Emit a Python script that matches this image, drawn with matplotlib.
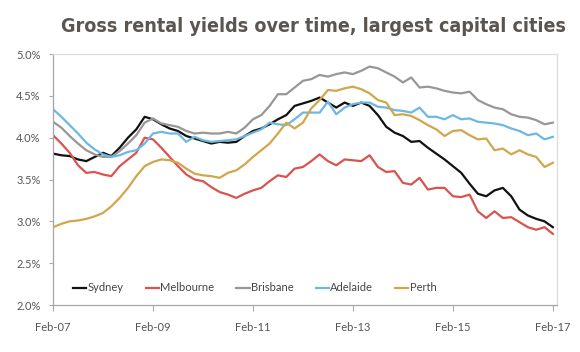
import matplotlib
matplotlib.use("Agg")
import matplotlib.pyplot as plt
from matplotlib import font_manager
import numpy as np

# Bi-monthly observations, Feb-07 .. Feb-17 (month index from Feb-07)
months = list(range(0, 121, 2))

sydney = [3.81, 3.79, 3.78, 3.74, 3.72, 3.77, 3.82, 3.78, 3.88, 4.00, 4.10, 4.25,
          4.22, 4.16, 4.11, 4.08, 4.02, 3.99, 3.96, 3.93, 3.95, 3.94, 3.95, 4.02,
          4.08, 4.11, 4.16, 4.22, 4.27, 4.38, 4.41, 4.44, 4.48, 4.42, 4.36, 4.42,
          4.38, 4.42, 4.38, 4.27, 4.13, 4.06, 4.02, 3.95, 3.96, 3.88, 3.81, 3.74,
          3.66, 3.58, 3.45, 3.33, 3.30, 3.37, 3.40, 3.30, 3.14, 3.07, 3.03, 3.00, 2.93]

melbourne = [4.03, 3.93, 3.82, 3.67, 3.58, 3.59, 3.56, 3.54, 3.66, 3.74, 3.82, 4.00,
             3.98, 3.88, 3.77, 3.66, 3.56, 3.50, 3.48, 3.41, 3.35, 3.32, 3.28, 3.33,
             3.37, 3.40, 3.48, 3.55, 3.53, 3.63, 3.65, 3.72, 3.80, 3.72, 3.67, 3.74,
             3.73, 3.72, 3.79, 3.65, 3.59, 3.60, 3.46, 3.44, 3.52, 3.38, 3.40, 3.40,
             3.30, 3.29, 3.32, 3.12, 3.04, 3.12, 3.04, 3.05, 2.99, 2.93, 2.90, 2.93, 2.85]

brisbane = [4.19, 4.12, 4.02, 3.93, 3.85, 3.80, 3.77, 3.77, 3.84, 3.93, 4.03, 4.18,
            4.23, 4.17, 4.15, 4.13, 4.08, 4.05, 4.06, 4.05, 4.05, 4.07, 4.05, 4.12,
            4.22, 4.27, 4.38, 4.52, 4.52, 4.60, 4.68, 4.70, 4.75, 4.73, 4.76, 4.78,
            4.76, 4.80, 4.85, 4.83, 4.78, 4.73, 4.66, 4.72, 4.60, 4.61, 4.59, 4.56,
            4.54, 4.53, 4.55, 4.45, 4.40, 4.36, 4.34, 4.28, 4.25, 4.24, 4.21, 4.16, 4.18]

adelaide = [4.34, 4.25, 4.15, 4.05, 3.94, 3.86, 3.80, 3.77, 3.79, 3.83, 3.85, 3.93,
            4.05, 4.07, 4.05, 4.05, 3.95, 4.01, 3.97, 3.95, 3.96, 3.97, 3.98, 4.02,
            4.06, 4.10, 4.18, 4.16, 4.15, 4.22, 4.30, 4.30, 4.30, 4.43, 4.28, 4.36,
            4.40, 4.42, 4.42, 4.37, 4.36, 4.33, 4.32, 4.30, 4.36, 4.25, 4.25, 4.22,
            4.27, 4.22, 4.23, 4.19, 4.18, 4.17, 4.15, 4.11, 4.08, 4.03, 4.05, 3.98, 4.01]

perth = [2.93, 2.97, 3.00, 3.01, 3.03, 3.06, 3.10, 3.18, 3.28, 3.40, 3.54, 3.66,
         3.71, 3.74, 3.73, 3.70, 3.63, 3.57, 3.55, 3.54, 3.52, 3.58, 3.61, 3.68,
         3.77, 3.85, 3.93, 4.05, 4.18, 4.11, 4.18, 4.35, 4.45, 4.57, 4.56, 4.59,
         4.61, 4.58, 4.53, 4.45, 4.42, 4.27, 4.28, 4.26, 4.21, 4.15, 4.10, 4.02,
         4.08, 4.09, 4.03, 3.98, 3.99, 3.85, 3.87, 3.80, 3.85, 3.80, 3.77, 3.65, 3.70]

series_names = ["Sydney", "Melbourne", "Brisbane", "Adelaide", "Perth"]
series = [sydney, melbourne, brisbane, adelaide, perth]
colors = ["#111111", "#d9534f", "#9b9696", "#6db8e0", "#d1a64c"]

xtick_pos = [0, 24, 48, 72, 96, 120]
xtick_labels = ["Feb-07", "Feb-09", "Feb-11", "Feb-13", "Feb-15", "Feb-17"]
ytick_vals = [2.0, 2.5, 3.0, 3.5, 4.0, 4.5, 5.0]
title = "Gross rental yields over time, largest capital cities"

fig = plt.figure(figsize=(5.8, 3.52), dpi=100)
fig.patch.set_facecolor("white")
ax = fig.add_axes([0.0914, 0.1335, 0.869, 0.713])

for name, vals, c in zip(series_names, series, colors):
    ax.plot(months, vals, color=c, lw=1.6, label=name, solid_joinstyle="round")

ax.set_xlim(0, 121)
ax.set_ylim(2.0, 5.0)
ax.set_xticks(xtick_pos)
ax.set_xticklabels(xtick_labels)
ax.set_yticks(ytick_vals)
ax.set_yticklabels([f"{v:.1f}%" for v in ytick_vals])

for lab in ax.get_xticklabels() + ax.get_yticklabels():
    lab.set_fontfamily("Lato")
    lab.set_fontsize(8)
    lab.set_color("#555555")

ax.tick_params(axis="x", direction="out", length=4, width=0.8, color="#aaaaaa", pad=8)
ax.tick_params(axis="y", direction="out", length=3, width=0.8, color="#aaaaaa", pad=6)

for side in ["left", "bottom"]:
    ax.spines[side].set_color("#a6a6a6")
    ax.spines[side].set_linewidth(0.9)
for side in ["top", "right"]:
    ax.spines[side].set_color("#dddddd")
    ax.spines[side].set_linewidth(0.9)

leg = ax.legend(loc="center", bbox_to_anchor=(0.40, 0.068), ncol=5, frameon=False,
                handlelength=1.2, handletextpad=0.1, columnspacing=2.0,
                prop={"family": "Lato", "size": 8})
for t in leg.get_texts():
    t.set_color("#444444")

# pick a condensed bold face if one is installed
title_font = None
for fam, stretch in [("Liberation Sans Narrow", "condensed"), ("DejaVu Sans", "condensed"),
                     ("Roboto", "condensed"), ("Liberation Sans", "normal")]:
    fp = font_manager.FontProperties(family=fam, weight="bold", stretch=stretch)
    try:
        font_manager.findfont(fp, fallback_to_default=False)
        title_font = fp
        break
    except Exception:
        continue

t = fig.text(0.541, 0.908, title, ha="center", va="baseline",
             fontproperties=title_font, color="#5b5552")
t.set_fontsize(20)
fig.canvas.draw()
w = t.get_window_extent().width
t.set_fontsize(20 * 505.0 / w)

fig.savefig("out.png", dpi=100, facecolor="white")
